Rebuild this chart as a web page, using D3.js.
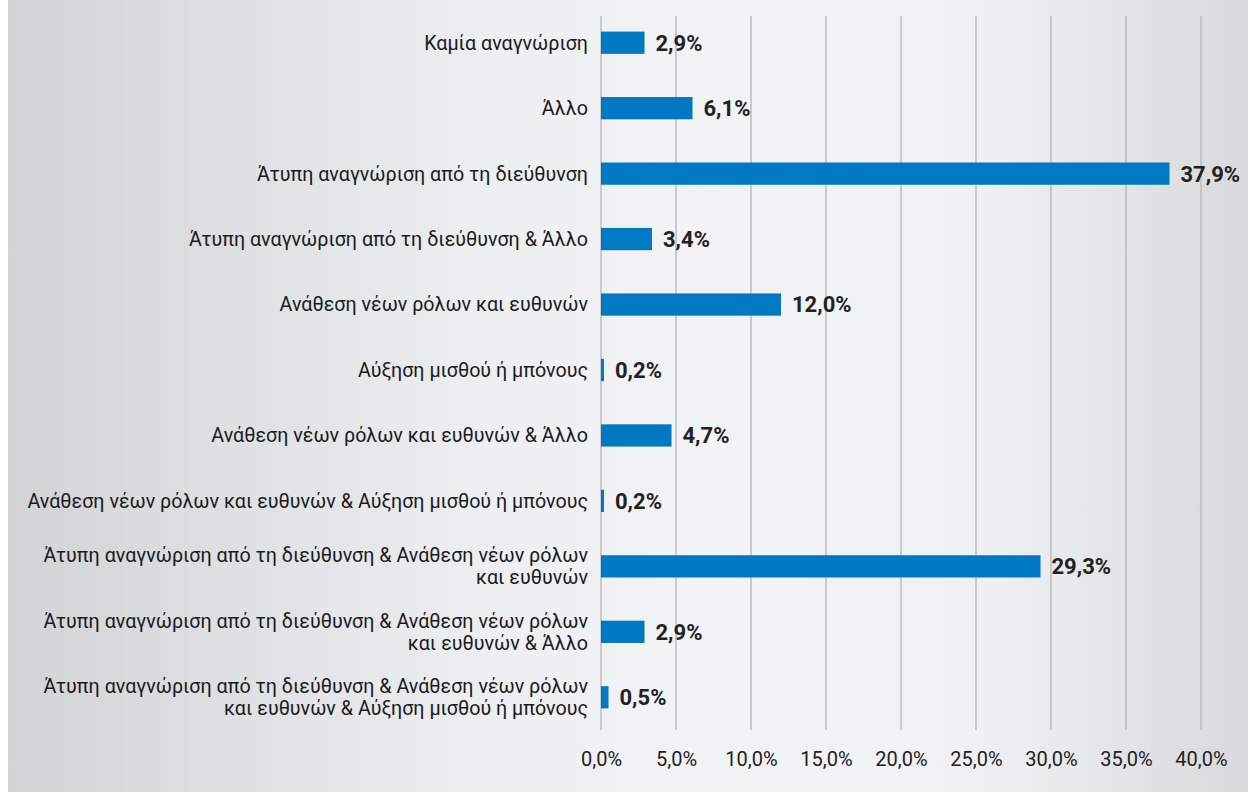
<!DOCTYPE html>
<html>
<head>
<meta charset="utf-8">
<script src="https://cdn.jsdelivr.net/npm/d3@7"></script>
<style>
  html, body { margin: 0; padding: 0; background: #ffffff; }
  svg { display: block; }
</style>
</head>
<body>
<svg id="chart" width="1248" height="792"></svg>
<script>
// Categories, top to bottom; "\n" marks a line break in the label
const categories = [
  "Καμία αναγνώριση",
  "Άλλο",
  "Άτυπη αναγνώριση από τη διεύθυνση",
  "Άτυπη αναγνώριση από τη διεύθυνση & Άλλο",
  "Ανάθεση νέων ρόλων και ευθυνών",
  "Αύξηση μισθού ή μπόνους",
  "Ανάθεση νέων ρόλων και ευθυνών & Άλλο",
  "Ανάθεση νέων ρόλων και ευθυνών & Αύξηση μισθού ή μπόνους",
  "Άτυπη αναγνώριση από τη διεύθυνση & Ανάθεση νέων ρόλων\nκαι ευθυνών",
  "Άτυπη αναγνώριση από τη διεύθυνση & Ανάθεση νέων ρόλων\nκαι ευθυνών & Άλλο",
  "Άτυπη αναγνώριση από τη διεύθυνση & Ανάθεση νέων ρόλων\nκαι ευθυνών & Αύξηση μισθού ή μπόνους"
];

// Share of respondents, percent
const values = [2.9, 6.1, 37.9, 3.4, 12.0, 0.2, 4.7, 0.2, 29.3, 2.9, 0.5];

// Axis ticks, percent
const tickValues = [0, 5, 10, 15, 20, 25, 30, 35, 40];

const fmt = v => v.toFixed(1).replace(".", ",") + "%";

const svg = d3.select("#chart");
const W = 1248, H = 792;

// Panel background with a soft horizontal gradient
const defs = svg.append("defs");
const grad = defs.append("linearGradient")
  .attr("id", "bg").attr("x1", "0%").attr("x2", "100%").attr("y1", "0%").attr("y2", "0%");
[[0, "#d2d3d5"], [0.38, "#eceef0"], [0.55, "#f2f3f5"], [0.78, "#f0f1f3"], [1, "#d8d9db"]]
  .forEach(([o, c]) => grad.append("stop").attr("offset", o).attr("stop-color", c));

svg.append("rect")
  .attr("x", 8).attr("y", 0).attr("width", W - 8).attr("height", H)
  .attr("fill", "url(#bg)");

const x = d3.scaleLinear().domain([0, 40]).range([601, 1201]);
const y = d3.scaleBand().domain(categories).range([10, 730]).paddingInner(0.66).paddingOuter(0.33);

// Vertical gridlines
svg.append("g")
  .selectAll("line")
  .data(tickValues)
  .join("line")
  .attr("x1", d => x(d)).attr("x2", d => x(d))
  .attr("y1", 16).attr("y2", 730)
  .attr("stroke", "#bcbcbe")
  .attr("stroke-width", 1.5);

// Bottom tick labels
const xAxis = d3.axisBottom(x).tickValues(tickValues).tickFormat(fmt).tickSize(0).tickPadding(0);
const gx = svg.append("g").attr("transform", "translate(0,760)").call(xAxis);
gx.select(".domain").remove();
gx.selectAll("text")
  .attr("dy", "0.32em")
  .attr("font-family", "Roboto, sans-serif")
  .attr("font-size", 20)
  .attr("fill", "#222222");

// Bars
svg.append("g")
  .selectAll("rect")
  .data(categories)
  .join("rect")
  .attr("x", x(0))
  .attr("y", d => y(d))
  .attr("width", (d, i) => x(values[i]) - x(0))
  .attr("height", y.bandwidth())
  .attr("fill", "#0079c2");

// Value labels
svg.append("g")
  .selectAll("text")
  .data(categories)
  .join("text")
  .attr("x", (d, i) => x(values[i]) + 11)
  .attr("y", d => y(d) + y.bandwidth() / 2)
  .attr("dy", "0.36em")
  .attr("font-family", "Roboto, sans-serif")
  .attr("font-weight", "bold")
  .attr("font-size", 22)
  .attr("fill", "#222222")
  .text((d, i) => fmt(values[i]));

// Category labels, right-aligned, one or two lines
const lineH = 22;
svg.append("g")
  .selectAll("text")
  .data(categories)
  .join("text")
  .attr("x", 588)
  .attr("text-anchor", "end")
  .attr("font-family", "Roboto, sans-serif")
  .attr("font-size", 19.7)
  .attr("fill", "#1c1c1c")
  .each(function(d) {
    const lines = d.split("\n");
    const cy = y(d) + y.bandwidth() / 2;
    const top = cy - (lines.length - 1) * lineH / 2;
    d3.select(this).selectAll("tspan")
      .data(lines)
      .join("tspan")
      .attr("x", 588)
      .attr("y", (l, k) => top + k * lineH)
      .attr("dy", "0.35em")
      .text(l => l);
  });
</script>
</body>
</html>
